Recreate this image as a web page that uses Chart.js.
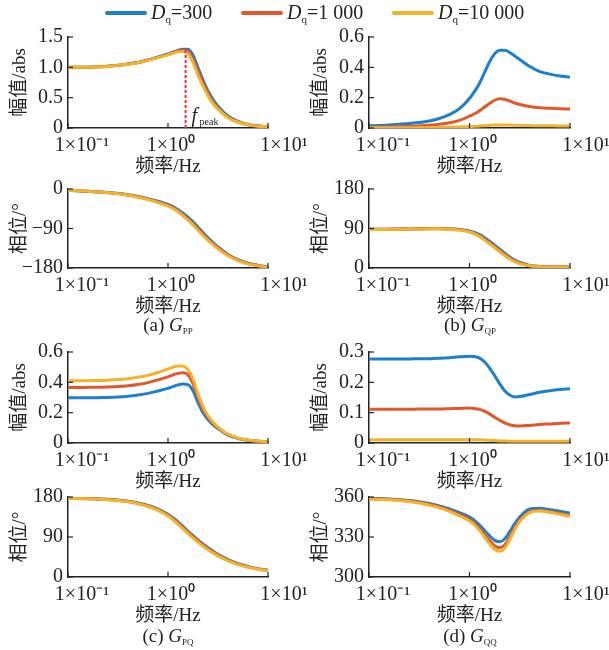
<!DOCTYPE html>
<html>
<head>
<meta charset="utf-8">
<script src="https://cdn.jsdelivr.net/npm/chart.js@4.4.0/dist/chart.umd.min.js"></script>
<style>
  body { margin: 0; background: #fff; width: 609px; height: 650px; position: relative; overflow: hidden;
         font-family: 'Liberation Serif', 'Noto Sans CJK SC', serif; color: #222; }
  canvas { position: absolute; }
  .cap { position: absolute; font-size: 19px; transform: translateX(-50%); white-space: nowrap; line-height: 22px; }
  .cap sub { font-size: 9px; vertical-align: -3px; }
  .leg { position: absolute; font-size: 20px; white-space: nowrap; line-height: 24px; }
  .leg sub { font-size: 11px; vertical-align: -4px; }
  .swatch { position: absolute; height: 4px; border-radius: 2px; }
</style>
</head>
<body>
<script>
// frequency axis (Hz)
const freqHz = [0.1, 0.126, 0.158, 0.2, 0.251, 0.316, 0.398, 0.501, 0.631, 0.794, 1, 1.12, 1.26, 1.41, 1.58, 1.78, 2, 2.24, 2.51, 2.82, 3.16, 3.98, 5.01, 6.31, 7.94, 10];
const xTicks = [0.1, 1, 10];
const xTickLabels = ['1×10⁻¹', '1×10⁰', '1×10¹'];

// legend: Dq values
const dqLabels = ['300', '1 000', '10 000'];
const colors = ['#1c80cc', '#e2572b', '#f2b32a'];

// (a) G_PP
const ppMag300   = [1.00, 1.00, 1.003, 1.008, 1.016, 1.035, 1.055, 1.08, 1.12, 1.17, 1.22, 1.25, 1.28, 1.30, 1.30, 1.20, 0.99, 0.79, 0.61, 0.47, 0.36, 0.20, 0.11, 0.06, 0.035, 0.02];
const ppMag1000  = [1.00, 1.00, 1.003, 1.008, 1.016, 1.035, 1.055, 1.08, 1.12, 1.165, 1.21, 1.24, 1.27, 1.28, 1.26, 1.13, 0.93, 0.74, 0.57, 0.43, 0.33, 0.18, 0.10, 0.055, 0.032, 0.02];
const ppMag10000 = [1.00, 1.00, 1.003, 1.008, 1.015, 1.033, 1.052, 1.077, 1.115, 1.16, 1.205, 1.23, 1.255, 1.26, 1.23, 1.08, 0.87, 0.69, 0.53, 0.40, 0.31, 0.17, 0.095, 0.052, 0.03, 0.02];
const ppPh300   = [-3, -4, -5, -6.5, -8, -10, -13, -17, -22, -28, -35, -40, -47, -55, -64, -75, -87, -99, -111, -122, -132, -149, -161, -169, -174, -178];
const ppPh1000  = [-3, -4, -5, -6.7, -8.3, -10.5, -13.6, -17.8, -23, -29.5, -37, -42.5, -50, -58.5, -68, -79, -91, -103, -114.5, -125, -134.5, -151, -162, -170, -174.5, -178.5];
const ppPh10000 = [-3, -4, -5.2, -7, -8.6, -11, -14.2, -18.6, -24, -31, -39, -44.5, -52, -61, -70.5, -82, -94, -106, -117, -127, -136.5, -152, -163, -170.5, -175, -179];
const fPeak = 1.5;
const peakMag = 1.29;

// (b) G_QP
const qpMag300   = [0.015, 0.017, 0.02, 0.025, 0.03, 0.036, 0.046, 0.063, 0.088, 0.128, 0.195, 0.24, 0.295, 0.365, 0.435, 0.49, 0.512, 0.513, 0.498, 0.475, 0.452, 0.405, 0.372, 0.355, 0.343, 0.335];
const qpMag1000  = [0.005, 0.006, 0.007, 0.009, 0.011, 0.014, 0.018, 0.024, 0.034, 0.05, 0.078, 0.094, 0.114, 0.138, 0.162, 0.183, 0.193, 0.19, 0.178, 0.165, 0.155, 0.142, 0.134, 0.13, 0.127, 0.125];
const qpMag10000 = [0.001, 0.001, 0.001, 0.0015, 0.002, 0.0025, 0.003, 0.004, 0.005, 0.007, 0.009, 0.011, 0.013, 0.015, 0.017, 0.019, 0.02, 0.02, 0.019, 0.018, 0.017, 0.016, 0.015, 0.015, 0.014, 0.014];
const qpPh300   = [88, 88.2, 88.4, 88.7, 89, 89.4, 89.8, 90, 89.6, 88, 84.5, 81, 76, 69, 61, 52, 43, 34, 25, 18, 12.5, 6, 3.5, 2.5, 2, 2];
const qpPh1000  = [88, 88.2, 88.4, 88.7, 89, 89.3, 89.6, 89.6, 89, 87, 83, 79, 73.5, 66, 57.5, 48.5, 39.5, 31, 22.5, 16, 11, 5.3, 3.2, 2.3, 2, 2];
const qpPh10000 = [87.5, 87.7, 88, 88.3, 88.6, 88.9, 89.2, 89.2, 88.5, 86.3, 82, 77.5, 71.5, 63.5, 55, 46, 37, 28.5, 20.5, 14.5, 10, 5, 3, 2.2, 1.9, 1.8];

// (c) G_PQ
const pqMag300   = [0.298, 0.298, 0.298, 0.299, 0.3, 0.303, 0.308, 0.316, 0.327, 0.343, 0.36, 0.372, 0.383, 0.389, 0.385, 0.345, 0.265, 0.2, 0.155, 0.12, 0.095, 0.052, 0.03, 0.018, 0.012, 0.008];
const pqMag1000  = [0.366, 0.366, 0.367, 0.368, 0.37, 0.373, 0.378, 0.386, 0.398, 0.416, 0.436, 0.449, 0.459, 0.463, 0.45, 0.39, 0.3, 0.225, 0.17, 0.13, 0.1, 0.056, 0.032, 0.019, 0.012, 0.008];
const pqMag10000 = [0.41, 0.41, 0.411, 0.412, 0.414, 0.418, 0.424, 0.433, 0.446, 0.465, 0.487, 0.5, 0.508, 0.507, 0.485, 0.42, 0.32, 0.24, 0.18, 0.138, 0.105, 0.058, 0.033, 0.02, 0.013, 0.008];
const pqPh300   = [177.5, 177, 176.5, 175.8, 174.8, 173, 170.5, 166.5, 161, 153, 141, 133, 124, 114, 103.5, 93, 83, 74, 66, 58, 51, 39, 30, 23.5, 18.5, 15];
const pqPh1000  = [177.3, 176.8, 176.2, 175.5, 174.4, 172.5, 169.8, 165.6, 159.8, 151.5, 139, 130.8, 121.5, 111.3, 100.8, 90.4, 80.5, 71.6, 63.8, 56, 49.2, 37.6, 29, 22.8, 18, 14.6];
const pqPh10000 = [177, 176.5, 175.9, 175.1, 174, 172, 169.1, 164.7, 158.6, 150, 137, 128.6, 119, 108.6, 98, 87.8, 78, 69.3, 61.6, 54, 47.4, 36.2, 28, 22, 17.5, 14.2];

// (d) G_QQ
const qqMag300   = [0.277, 0.277, 0.277, 0.277, 0.277, 0.278, 0.278, 0.279, 0.281, 0.284, 0.286, 0.285, 0.28, 0.268, 0.248, 0.222, 0.195, 0.172, 0.158, 0.152, 0.153, 0.16, 0.167, 0.172, 0.176, 0.179];
const qqMag1000  = [0.111, 0.111, 0.111, 0.111, 0.111, 0.112, 0.112, 0.112, 0.113, 0.114, 0.115, 0.114, 0.111, 0.105, 0.096, 0.085, 0.075, 0.066, 0.06, 0.057, 0.056, 0.058, 0.061, 0.063, 0.065, 0.066];
const qqMag10000 = [0.011, 0.011, 0.011, 0.011, 0.011, 0.011, 0.011, 0.011, 0.011, 0.011, 0.011, 0.011, 0.0105, 0.01, 0.009, 0.008, 0.007, 0.0065, 0.006, 0.0058, 0.0056, 0.0057, 0.0058, 0.006, 0.006, 0.006];
const qqPh300   = [359, 358.8, 358.5, 358, 357.4, 356.5, 355.2, 353.3, 351, 348.2, 345, 342.5, 339, 335, 331, 327.5, 326.5, 328.5, 334, 340, 345, 351, 351.5, 350.5, 349.3, 348];
const qqPh1000  = [358.8, 358.5, 358.2, 357.7, 357, 356, 354.5, 352.5, 350, 346.8, 343.3, 340.5, 336.5, 332, 327.5, 323.5, 322, 324, 330, 337, 342.5, 349, 350, 349, 347.7, 346.3];
const qqPh10000 = [358.5, 358.2, 357.9, 357.3, 356.6, 355.5, 353.9, 351.8, 349.2, 345.8, 342, 339, 334.8, 330, 325, 320.8, 319.3, 321.5, 328, 335.5, 341.5, 348.3, 349.5, 348.5, 347, 345.5];

// y ticks
const ppMagTicks = [0, 0.5, 1, 1.5],  ppMagLabels = ['0', '0.5', '1.0', '1.5'];
const ppPhTicks = [-180, -90, 0],     ppPhLabels = ['−180', '−90', '0'];
const qpMagTicks = [0, 0.2, 0.4, 0.6], qpMagLabels = ['0', '0.2', '0.4', '0.6'];
const qpPhTicks = [0, 90, 180],       qpPhLabels = ['0', '90', '180'];
const pqMagTicks = [0, 0.2, 0.4, 0.6], pqMagLabels = ['0', '0.2', '0.4', '0.6'];
const pqPhTicks = [0, 90, 180],       pqPhLabels = ['0', '90', '180'];
const qqMagTicks = [0, 0.1, 0.2, 0.3], qqMagLabels = ['0', '0.1', '0.2', '0.3'];
const qqPhTicks = [300, 330, 360],    qqPhLabels = ['300', '330', '360'];

const FONT = "'Liberation Serif', 'Noto Sans CJK SC', serif";
const INK = '#222';
const AXW = 68, AXH = 52, PADT = 12, PADR = 40;
const xLabelShift = [14, 3, 16];   // the typeset tick labels sit a little right of their ticks

// chart areas (px in page)
const cols = [[68, 268], [369, 570]];
const rows = [[37, 128], [189, 268], [352, 443], [497, 577]];

// MATLAB style inward ticks + x tick labels
const axisDecor = {
  id: 'axisDecor',
  afterDatasetsDraw(chart) {
    const { ctx, chartArea: a, scales } = chart;
    ctx.save();
    ctx.strokeStyle = INK;
    ctx.lineWidth = 1.2;
    scales.x.ticks.forEach(t => {
      const px = scales.x.getPixelForValue(t.value);
      ctx.beginPath(); ctx.moveTo(px, a.bottom); ctx.lineTo(px, a.bottom - 5); ctx.stroke();
    });
    scales.y.ticks.forEach(t => {
      const py = scales.y.getPixelForValue(t.value);
      ctx.beginPath(); ctx.moveTo(a.left, py); ctx.lineTo(a.left + 5, py); ctx.stroke();
    });
    ctx.fillStyle = INK;
    ctx.font = '20px ' + FONT;
    ctx.textAlign = 'center';
    ctx.textBaseline = 'top';
    xTicks.forEach((v, i) => {
      const px = scales.x.getPixelForValue(v) + xLabelShift[i];
      ctx.fillText(xTickLabels[i], px, a.bottom + 8);
    });
    ctx.restore();
  }
};

const peakLabel = {
  id: 'peakLabel',
  afterDatasetsDraw(chart) {
    const { ctx, scales } = chart;
    const px = scales.x.getPixelForValue(fPeak) + 6;
    const py = scales.y.getPixelForValue(0.12);
    ctx.save();
    ctx.fillStyle = INK;
    ctx.textBaseline = 'alphabetic';
    ctx.font = "italic 20px " + FONT;
    ctx.fillText('f', px, py + 1);
    ctx.font = "10px " + FONT;
    ctx.fillText('peak', px + 8, py + 4);
    ctx.restore();
  }
};

function makePanel(col, row, series, yTicks, yLabels, yTitle, extra) {
  const [l, r] = cols[col], [t, b] = rows[row];
  const cv = document.createElement('canvas');
  const w = r - l + AXW + PADR, h = b - t + PADT + AXH;
  cv.width = w; cv.height = h;
  cv.style.left = (l - AXW) + 'px';
  cv.style.top = (t - PADT) + 'px';
  cv.style.width = w + 'px'; cv.style.height = h + 'px';
  document.body.appendChild(cv);

  const datasets = series.map((s, i) => ({
    label: 'Dq=' + dqLabels[i],
    data: freqHz.map((f, k) => ({ x: f, y: s[k] })),
    borderColor: colors[i],
    borderWidth: 3,
    pointRadius: 0,
    cubicInterpolationMode: 'monotone',
    order: 2 - i
  }));
  if (extra) datasets.push(extra);

  new Chart(cv, {
    type: 'line',
    data: { datasets },
    options: {
      responsive: false,
      animation: false,
      devicePixelRatio: 1,
      layout: { padding: { top: PADT, right: PADR, left: 0, bottom: 0 } },
      plugins: { legend: { display: false }, tooltip: { enabled: false } },
      scales: {
        x: {
          type: 'logarithmic', min: 0.1, max: 10,
          grid: { display: false, drawTicks: false },
          border: { color: INK, width: 1.5 },
          afterBuildTicks: s => { s.ticks = xTicks.map(v => ({ value: v })); },
          afterFit: s => { s.height = AXH; s.paddingLeft = 0; s.paddingRight = 0; },
          ticks: { display: false },
          title: { display: true, text: '频率/Hz', color: INK, font: { family: FONT, size: 19 }, padding: { top: 0, bottom: 2 } }
        },
        y: {
          min: yTicks[0], max: yTicks[yTicks.length - 1],
          grid: { display: false, drawTicks: false },
          border: { color: INK, width: 1.5 },
          afterBuildTicks: s => { s.ticks = yTicks.map(v => ({ value: v })); },
          afterFit: s => { s.width = AXW; s.paddingTop = 0; s.paddingBottom = 0; },
          ticks: { autoSkip: false, padding: 5, color: INK,
                   font: { family: FONT, size: 20 }, callback: (v, i) => yLabels[i] },
          title: { display: true, text: yTitle, color: INK, font: { family: FONT, size: 19 }, padding: { top: 9, bottom: 0 } }
        }
      }
    },
    plugins: extra ? [axisDecor, peakLabel] : [axisDecor]
  });
}

const peakLine = {
  data: [{ x: fPeak, y: 0 }, { x: fPeak, y: peakMag }],
  borderColor: '#ff2a2a', borderWidth: 2, borderDash: [3, 2], pointRadius: 0, order: -1
};

makePanel(0, 0, [ppMag300, ppMag1000, ppMag10000], ppMagTicks, ppMagLabels, '幅值/abs', peakLine);
makePanel(0, 1, [ppPh300, ppPh1000, ppPh10000], ppPhTicks, ppPhLabels, '相位/°');
makePanel(1, 0, [qpMag300, qpMag1000, qpMag10000], qpMagTicks, qpMagLabels, '幅值/abs');
makePanel(1, 1, [qpPh300, qpPh1000, qpPh10000], qpPhTicks, qpPhLabels, '相位/°');
makePanel(0, 2, [pqMag300, pqMag1000, pqMag10000], pqMagTicks, pqMagLabels, '幅值/abs');
makePanel(0, 3, [pqPh300, pqPh1000, pqPh10000], pqPhTicks, pqPhLabels, '相位/°');
makePanel(1, 2, [qqMag300, qqMag1000, qqMag10000], qqMagTicks, qqMagLabels, '幅值/abs');
makePanel(1, 3, [qqPh300, qqPh1000, qqPh10000], qqPhTicks, qqPhLabels, '相位/°');

// legend
const legX = [105, 241, 392];
dqLabels.forEach((d, i) => {
  const sw = document.createElement('div');
  sw.className = 'swatch';
  sw.style.cssText = `left:${legX[i]}px;top:11px;width:42px;background:${colors[i]}`;
  document.body.appendChild(sw);
  const tx = document.createElement('div');
  tx.className = 'leg';
  tx.style.left = (legX[i] + 46) + 'px';
  tx.style.top = '0px';
  tx.innerHTML = `<i>D</i><sub>q</sub>=${d}`;
  document.body.appendChild(tx);
});

// panel captions
const captions = [
  ['(a) ', 'PP', 168, 314], ['(b) ', 'QP', 470, 314],
  ['(c) ', 'PQ', 168, 625], ['(d) ', 'QQ', 470, 625]
];
captions.forEach(([p, s, x, y]) => {
  const c = document.createElement('div');
  c.className = 'cap';
  c.style.left = x + 'px'; c.style.top = y + 'px';
  c.innerHTML = `${p}<i>G</i><sub>${s}</sub>`;
  document.body.appendChild(c);
});
</script>
</body>
</html>
